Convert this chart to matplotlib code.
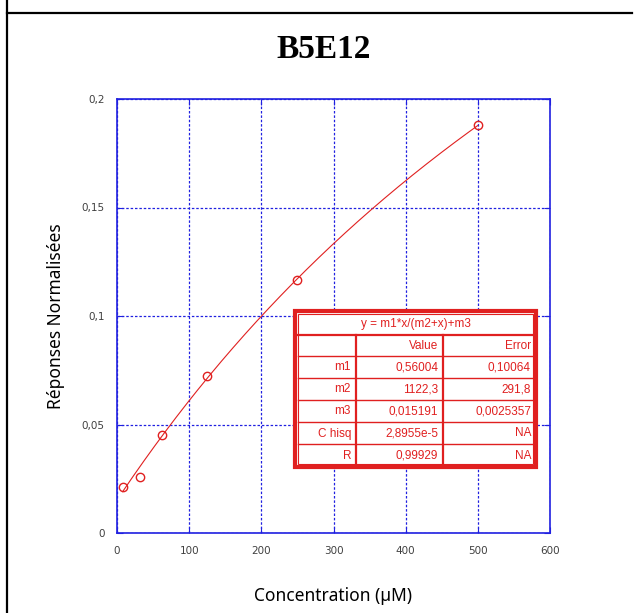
import matplotlib
matplotlib.use("Agg")
import matplotlib.pyplot as plt
import numpy as np
from matplotlib.patches import Rectangle
from matplotlib.lines import Line2D

# Data
conc = [7.8125, 31.25, 62.5, 125, 250, 500]
resp = [0.0212, 0.0258, 0.0452, 0.0724, 0.1166, 0.1878]

# Fit parameters (y = m1*x/(m2+x)+m3)
m1, m2, m3 = 0.56004, 1122.3, 0.015191

table_rows = [
    ["", "Value", "Error"],
    ["m1", "0,56004", "0,10064"],
    ["m2", "1122,3", "291,8"],
    ["m3", "0,015191", "0,0025357"],
    ["C hisq", "2,8955e-5", "NA"],
    ["R", "0,99929", "NA"],
]

W, H = 641, 613
fig = plt.figure(figsize=(W / 100, H / 100), dpi=100)

# page frame lines
fig.add_artist(Line2D([6.5 / W, 6.5 / W], [0, 1], color="black", lw=1.6, transform=fig.transFigure))
fig.add_artist(Line2D([6.5 / W, 632 / W], [1 - 13 / H, 1 - 13 / H], color="black", lw=1.6, transform=fig.transFigure))

fig.text(324 / W, 1 - 50 / H, "B5E12", ha="center", va="center",
         fontsize=24, fontweight="bold", family="Liberation Serif")

ax = fig.add_axes([117 / W, 1 - 533 / H, (550 - 117) / W, (533 - 99) / H])
blue = "#2020e0"
red = "#e02020"

ax.set_xlim(0, 600)
ax.set_ylim(0, 0.2)
ax.set_xticks(range(0, 601, 100))
ax.set_yticks([0, 0.05, 0.1, 0.15, 0.2])
ax.set_xticklabels([str(v) for v in range(0, 601, 100)])
ax.set_yticklabels(["0", "0,05", "0,1", "0,15", "0,2"])
ax.tick_params(direction="in", length=4, color=blue, top=True, right=True,
               labelsize=7.5, labelcolor="#404040", pad=9)
for s in ax.spines.values():
    s.set_color(blue)
    s.set_linewidth(1.2)
ax.grid(True, color=blue, linestyle=(0, (2, 1.5)), linewidth=0.9)

xx = np.linspace(conc[0], conc[-1], 300)
ax.plot(xx, m1 * xx / (m2 + xx) + m3, color=red, lw=0.8)
ax.plot(conc, resp, "o", mfc="none", mec=red, ms=6, mew=1)

ax.set_ylabel("Réponses Normalisées", fontsize=12.5, family="Noto Sans", labelpad=12)
ax.set_xlabel("Concentration (µM)", fontsize=12.5, family="Noto Sans", labelpad=23)

# fit result table
x0, x1 = 295, 536
top, head_bot = 311, 335
cols = [x0, 356, 443, x1]
rows_y = [335, 356, 378, 400, 422, 444, 467]
tr = fig.transFigure


def fx(px):
    return px / W


def fy(py):
    return 1 - py / H


fig.add_artist(Rectangle((fx(x0), fy(467)), fx(x1) - fx(x0), fy(top) - fy(467),
                         fill=True, fc="white", ec=red, lw=3, transform=tr, zorder=5))
fig.add_artist(Rectangle((fx(x0 + 3), fy(464)), fx(x1 - 3) - fx(x0 + 3), fy(top + 3) - fy(464),
                         fill=False, ec=red, lw=0.8, transform=tr, zorder=6))
for yy in rows_y[:-1]:
    lw = 1.6 if yy == head_bot else 1.0
    fig.add_artist(Line2D([fx(x0 + 3), fx(x1 - 3)], [fy(yy), fy(yy)], color=red, lw=lw, transform=tr, zorder=6))
for xc in cols[1:3]:
    fig.add_artist(Line2D([fx(xc), fx(xc)], [fy(head_bot), fy(464)], color=red, lw=1.6, transform=tr, zorder=6))

fig.text(fx((x0 + x1) / 2), fy((top + head_bot) / 2 + 1), "y = m1*x/(m2+x)+m3", ha="center", va="center",
         color=red, fontsize=8.5, family="Liberation Sans", zorder=7)
for i, row in enumerate(table_rows):
    yc = fy((rows_y[i] + rows_y[i + 1]) / 2 + 0.5)
    for j, txt in enumerate(row):
        fig.text(fx(cols[j + 1] - 5), yc, txt, ha="right", va="center",
                 color=red, fontsize=8.5, family="Liberation Sans", zorder=7)

fig.savefig("out.png", dpi=100)
